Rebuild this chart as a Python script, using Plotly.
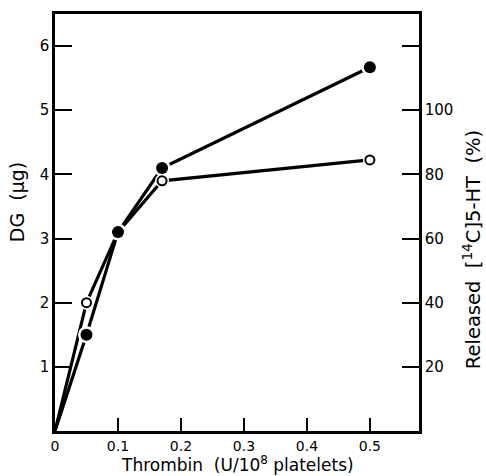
import plotly.graph_objects as go

thrombin = [0, 0.05, 0.1, 0.17, 0.5]
dg = [0, 1.5, 3.1, 4.1, 5.67]            # DG (µg), filled circles, left axis
released = [0, 40, 62, 78, 84.5]         # released 14C-5-HT (%), open circles, right axis

x_ticks = [0, 0.1, 0.2, 0.3, 0.4, 0.5]
x_ticklabels = ["0", "0.1", "0.2", "0.3", "0.4", "0.5"]
left_ticks = [1, 2, 3, 4, 5, 6]
right_ticks = [20, 40, 60, 80, 100, 120]
right_ticklabels = ["20", "40", "60", "80", "100", ""]

Y1_RANGE = [0, 6.5]
Y2_RANGE = [0, 130]
scale = Y2_RANGE[1] / Y1_RANGE[1]        # to draw DG markers in the top (y2) layer
dg_on_y2 = [v * scale for v in dg]

font = dict(family="DejaVu Sans, Arial, sans-serif", size=15, color="black")

fig = go.Figure()
# lines
fig.add_trace(go.Scatter(x=thrombin, y=dg, mode="lines",
                         line=dict(color="black", width=3.2), showlegend=False))
fig.add_trace(go.Scatter(x=thrombin, y=released, mode="lines", yaxis="y2",
                         line=dict(color="black", width=3.2), showlegend=False))
# white halos for the small gaps around markers
fig.add_trace(go.Scatter(x=thrombin[1:], y=dg_on_y2[1:], mode="markers", yaxis="y2",
                         marker=dict(color="white", size=17), showlegend=False))
fig.add_trace(go.Scatter(x=thrombin[1:], y=released[1:], mode="markers", yaxis="y2",
                         marker=dict(color="white", size=14), showlegend=False))
# open markers first, filled on top
fig.add_trace(go.Scatter(x=thrombin[1:], y=released[1:], mode="markers", yaxis="y2",
                         marker=dict(color="white", size=9,
                                     line=dict(color="black", width=2)),
                         showlegend=False))
fig.add_trace(go.Scatter(x=thrombin[1:], y=dg_on_y2[1:], mode="markers", yaxis="y2",
                         marker=dict(color="black", size=12), showlegend=False))

fig.update_layout(
    width=486, height=476,
    margin=dict(l=55, r=67, t=14, b=45),
    paper_bgcolor="white", plot_bgcolor="white",
    font=font,
    xaxis=dict(range=[0, 0.578], tickvals=x_ticks, ticktext=x_ticklabels,
               ticks="inside", ticklen=13, tickwidth=2, tickcolor="black",
               showline=True, linewidth=2.5, linecolor="black", mirror=True,
               showgrid=False, zeroline=False, tickfont=dict(size=14)),
    yaxis=dict(range=Y1_RANGE, tickvals=left_ticks,
               ticks="inside", ticklen=17, tickwidth=2, tickcolor="black",
               showline=True, linewidth=2.5, linecolor="black",
               showgrid=False, zeroline=False),
    yaxis2=dict(range=Y2_RANGE, tickvals=right_ticks, ticktext=right_ticklabels,
                overlaying="y", side="right",
                ticks="inside", ticklen=17, tickwidth=2, tickcolor="black",
                showline=True, linewidth=2.5, linecolor="black",
                showgrid=False, zeroline=False),
    annotations=[
        dict(text="Thrombin  (U/10<sup>8</sup> platelets)", xref="paper", yref="paper",
             x=0.5, y=-0.107, xanchor="center", yanchor="bottom", showarrow=False,
             font=dict(size=17), borderpad=0),
        dict(text="DG  (μg)", xref="paper", yref="paper", textangle=-90,
             x=-0.104, y=0.549, xanchor="center", yanchor="middle", showarrow=False,
             font=dict(size=19)),
        dict(text="Released  [<sup>14</sup>C]5-HT  (%)", xref="paper", yref="paper",
             textangle=-90, x=1.146, y=0.434, xanchor="center", yanchor="middle",
             showarrow=False, font=dict(size=19.5)),
    ],
)

fig.write_html("out.html")
